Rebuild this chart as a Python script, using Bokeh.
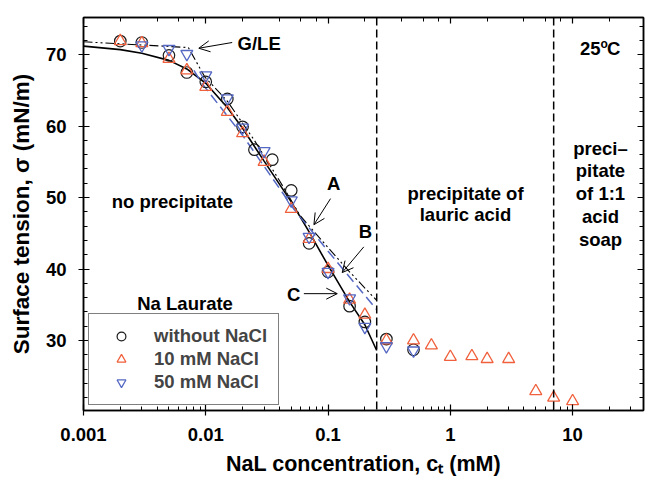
from bokeh.plotting import figure
from bokeh.models import (Range1d, LogAxis, LinearAxis, FixedTicker, Span, Label,
                          Arrow, OpenHead, Legend, LegendItem, CustomJSTickFormatter)
from bokeh.embed import file_html
from bokeh.resources import INLINE

# Surface tension of sodium laurate solutions at 25 C
conc_no_salt = [0.002, 0.003, 0.005, 0.007, 0.01, 0.015, 0.02, 0.025, 0.035, 0.05,
                0.07, 0.1, 0.15, 0.2, 0.3, 0.5]
sigma_no_salt = [71.9, 71.7, 69.9, 67.5, 66.2, 63.8, 59.9, 56.7, 55.3, 51.0,
                 43.6, 39.6, 34.8, 32.6, 30.2, 28.7]

conc_10mM = [0.002, 0.003, 0.005, 0.007, 0.01, 0.015, 0.02, 0.03, 0.05, 0.07, 0.1,
             0.15, 0.2, 0.3, 0.5, 0.7, 1.0, 1.5, 2.0, 3.0, 5.0, 7.0, 10.0]
sigma_10mM = [71.9, 71.6, 69.4, 67.8, 65.5, 62.0, 59.0, 55.0, 48.4, 44.2, 40.0,
              35.7, 33.6, 30.0, 30.0, 29.3, 27.7, 27.8, 27.4, 27.4, 22.9, 22.0, 21.5]

conc_50mM = [0.003, 0.005, 0.007, 0.01, 0.015, 0.02, 0.03, 0.05, 0.07, 0.1, 0.15,
             0.2, 0.3, 0.5]
sigma_50mM = [71.3, 70.8, 70.1, 67.1, 63.9, 59.8, 56.5, 49.6, 44.5, 39.6, 35.9,
              31.9, 29.2, 28.6]

# Model curves A, B, C
curve_a_conc = [0.001, 0.0072, 0.0098, 0.015, 0.025, 0.04, 0.059, 0.1, 0.15, 0.25]
curve_a_sigma = [71.8, 71.0, 66.9, 63.5, 58.0, 52.4, 47.5, 43.0, 39.6, 35.6]
curve_b_conc = [0.008, 0.0091, 0.02, 0.0525, 0.1, 0.25]
curve_b_sigma = [67.8, 66.2, 58.7, 48.4, 42.5, 34.3]
curve_c_conc = [0.001, 0.002, 0.003, 0.005, 0.007, 0.01, 0.015, 0.02, 0.03, 0.05,
                0.07, 0.1, 0.15, 0.2, 0.25]
curve_c_sigma = [71.2, 70.7, 70.2, 69.2, 68.0, 66.0, 62.6, 59.7, 55.1, 49.4,
                 45.2, 40.5, 35.4, 32.2, 28.6]

# Boundaries between precipitation regimes (mM)
boundaries = [0.25, 7.0]

y_major = [30, 40, 50, 60, 70]
y_minor = [v for v in range(22, 76, 2) if v % 10]

FONT = "Liberation Sans"
FS = 18.5
BLACK = "#1a1a1a"
RED = "#f0603c"
BLUE = "#5468c4"

p = figure(width=647, height=485, x_axis_type="log",
           x_range=Range1d(0.001, 38.0), y_range=Range1d(20.2, 75.2),
           output_backend="svg", toolbar_location=None,
           min_border_left=83, min_border_right=4, min_border_top=17,
           min_border_bottom=75)
p.xgrid.visible = False
p.ygrid.visible = False
p.outline_line_color = "black"
p.outline_line_width = 1.5
p.background_fill_color = "white"
p.border_fill_color = "white"

bottom_axis = p.below[0]
left_axis = p.left[0]
top_axis = LogAxis()
right_axis = LinearAxis()
p.add_layout(top_axis, "above")
p.add_layout(right_axis, "right")

yticker = FixedTicker(ticks=y_major, minor_ticks=y_minor)
left_axis.ticker = yticker
right_axis.ticker = yticker
bottom_axis.formatter = CustomJSTickFormatter(
    code="return parseFloat(tick.toPrecision(3)).toString();")

for ax in (bottom_axis, left_axis, top_axis, right_axis):
    ax.axis_line_color = "black"
    ax.axis_line_width = 1.5
    ax.major_tick_line_color = "black"
    ax.minor_tick_line_color = "black"
    ax.major_tick_line_width = 1.2
    ax.minor_tick_line_width = 1
    ax.major_tick_in = 6
    ax.major_tick_out = 5
    ax.minor_tick_in = 4
    ax.minor_tick_out = 0
    ax.major_label_text_font = FONT
    ax.major_label_text_font_style = "bold"
    ax.major_label_text_font_size = f"{FS}px"
    ax.major_label_text_color = "black"

# mirrored axes: ticks only
for ax in (top_axis, right_axis):
    ax.major_tick_out = 0
    ax.major_label_standoff = 0
    ax.major_label_text_font_size = "1px"
    ax.major_label_text_alpha = 0

bottom_axis.major_label_standoff = 12
left_axis.major_label_standoff = 12

bottom_axis.axis_label = "NaL concentration, c\u209c (mM)"
left_axis.axis_label = "Surface tension, \u03c3 (mN/m)"
for ax in (bottom_axis, left_axis):
    ax.axis_label_text_font = FONT
    ax.axis_label_text_font_style = "bold"
    ax.axis_label_text_color = "black"
bottom_axis.axis_label_text_font_size = "21.5px"
left_axis.axis_label_text_font_size = "22.5px"
bottom_axis.axis_label_standoff = 8
left_axis.axis_label_standoff = 9

# curves
p.line(curve_c_conc, curve_c_sigma, line_color="black", line_width=1.6)
p.line(curve_b_conc, curve_b_sigma, line_color=BLUE, line_width=1.5, line_dash="10 5")
p.line(curve_a_conc, curve_a_sigma, line_color="black", line_width=1.1,
       line_dash="9 3 2 3 2 3")

for b in boundaries:
    p.add_layout(Span(location=b, dimension="height", line_color="black",
                      line_width=1.5, line_dash="8 4"))

r_circ = p.scatter(conc_no_salt, sigma_no_salt, marker="circle", size=11.5,
                   fill_color=None, line_color=BLACK, line_width=1.2)
r_tri = p.scatter(conc_10mM, sigma_10mM, marker="triangle", size=12,
                  fill_color=None, line_color=RED, line_width=1.3)
r_inv = p.scatter(conc_50mM, sigma_50mM, marker="inverted_triangle", size=12,
                  fill_color=None, line_color=BLUE, line_width=1.3)

legend = Legend(items=[LegendItem(label="without NaCl", renderers=[r_circ]),
                       LegendItem(label="10 mM NaCl", renderers=[r_tri]),
                       LegendItem(label="50 mM NaCl", renderers=[r_inv])],
                location=(5, 5), border_line_color="black", border_line_width=1.2,
                background_fill_color="white", background_fill_alpha=1,
                label_text_font=FONT, label_text_font_style="bold",
                label_text_font_size=f"{FS}px", padding=11, spacing=1,
                glyph_width=42, glyph_height=22, label_height=22,
                label_standoff=12, margin=0)
p.add_layout(legend)


def txt(x, y, s, align="center", size=FS, style="bold", baseline="middle"):
    p.add_layout(Label(x=x, y=y, text=s, text_align=align, text_baseline=baseline,
                       text_font=FONT, text_font_style=style,
                       text_font_size=f"{size}px", text_color="black"))


txt(0.00534, 49.4, "no precipitate")
txt(0.00677, 35.2, "Na Laurate")
txt(1.33, 50.6, "precipitate of")
txt(1.33, 47.6, "lauric acid")
for i, s in enumerate(["preci\u2013", "pitate", "of 1:1", "acid", "soap"]):
    txt(16.9, 56.9 - 3.18 * i, s)

# 25 oC with raised "o"
txt(16.9, 70.9, "25", align="right")
txt(18.1, 71.5, "o", size=12)
txt(19.1, 70.9, "C", align="left")

txt(0.0182, 71.5, "G/LE", align="left")
txt(0.111, 52.0, "A")
txt(0.202, 45.2, "B")
txt(0.0524, 36.4, "C")

arrows = [((0.01644, 71.7), (0.00877, 70.9)),
          ((0.1048, 49.85), (0.0766, 46.2)),
          ((0.196, 43.1), (0.1305, 39.5)),
          ((0.0634, 36.55), (0.119, 36.55))]
for (xs, ys), (xe, ye) in arrows:
    p.add_layout(Arrow(end=OpenHead(size=11, line_width=1, line_color="black"),
                       x_start=xs, y_start=ys, x_end=xe, y_end=ye,
                       line_color="black", line_width=1))

open("out.html", "w").write(file_html(p, INLINE))
